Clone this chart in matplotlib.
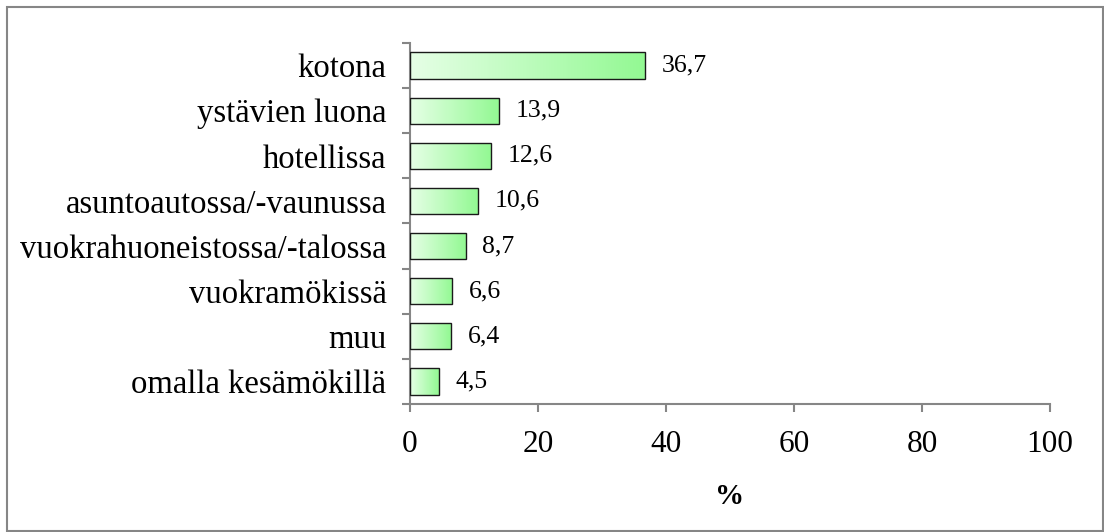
import numpy as np
import matplotlib.pyplot as plt
from matplotlib.colors import LinearSegmentedColormap
from matplotlib.patches import Rectangle

# data
categories = ['kotona', 'ystävien luona', 'hotellissa', 'asuntoautossa/-vaunussa',
              'vuokrahuoneistossa/-talossa', 'vuokramökissä', 'muu', 'omalla kesämökillä']
values = [36.7, 13.9, 12.6, 10.6, 8.7, 6.6, 6.4, 4.5]
value_labels = ['36,7', '13,9', '12,6', '10,6', '8,7', '6,6', '6,4', '4,5']
xticks = [0, 20, 40, 60, 80, 100]

plt.rcParams['font.family'] = ['Liberation Serif', 'DejaVu Serif']

fig = plt.figure(figsize=(11.04, 5.32), dpi=100)
ax = fig.add_axes([0.3714, 0.2406, 0.5797, 0.6786])

# outer chart border
fig.patches.append(Rectangle((7 / 1104, 1 / 532), 1096 / 1104, 524 / 532,
                             transform=fig.transFigure, fill=False,
                             edgecolor='#868686', linewidth=1.5))

y = np.arange(len(categories))
bars = ax.barh(y, values, height=0.58, color='none', edgecolor='#1a1a1a',
               linewidth=1.0, zorder=3)

cmap = LinearSegmentedColormap.from_list('grn', ['#e6ffe6', '#93f993'])
grad = np.linspace(0, 1, 256).reshape(1, -1)
for b in bars:
    x0, y0 = b.get_x(), b.get_y()
    w, h = b.get_width(), b.get_height()
    im = ax.imshow(grad, cmap=cmap, aspect='auto', extent=(x0, x0 + w, y0, y0 + h),
                   zorder=2, interpolation='bicubic')
    im.set_clip_path(b)

for yi, v, lab in zip(y, values, value_labels):
    ax.annotate(lab, (v, yi), xytext=(12, 0), textcoords='offset points',
                va='center', ha='left', fontsize=18.5, color='black')

ax.set_ylim(len(categories) - 0.5, -0.5)
ax.set_xlim(0, 100)
ax.set_xticks(xticks)
ax.set_xticklabels([str(t) for t in xticks], fontsize=22.5)
ax.set_yticks(np.arange(len(categories) + 1) - 0.5, minor=False)
ax.set_yticklabels([])
ax.set_yticks(y, minor=True)
ax.set_yticklabels(categories, minor=True, fontsize=23.5)
ax.tick_params(axis='y', which='minor', length=0, pad=17)
ax.tick_params(axis='y', which='major', length=6, width=1.5, color='#868686')
ax.tick_params(axis='x', length=6, width=1.5, color='#868686', pad=13)
ax.set_xlabel('%', fontsize=21, fontweight='bold', labelpad=17)

for s in ['top', 'right']:
    ax.spines[s].set_visible(False)
for s in ['left', 'bottom']:
    ax.spines[s].set_color('#868686')
    ax.spines[s].set_linewidth(1.5)

fig.savefig('out.png', dpi=100)
